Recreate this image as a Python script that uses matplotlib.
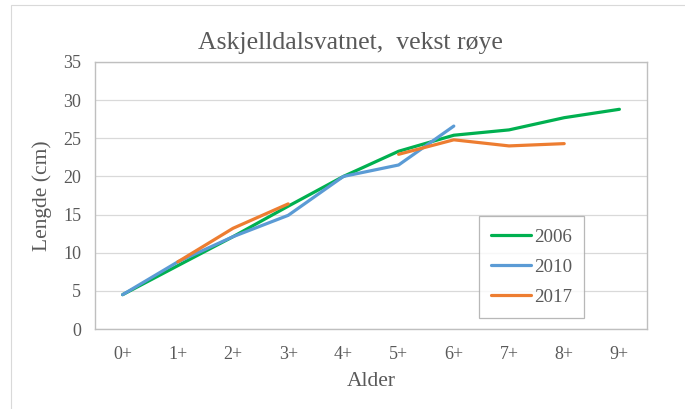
import numpy as np
import matplotlib
matplotlib.use('Agg')
import matplotlib.pyplot as plt
from matplotlib.patches import Rectangle

ages = ['0+', '1+', '2+', '3+', '4+', '5+', '6+', '7+', '8+', '9+']
nan = np.nan
len_2006 = [4.5, 8.3, 12.1, 16.1, 20.0, 23.3, 25.4, 26.1, 27.7, 28.8]
len_2010 = [4.5, 8.8, 12.1, 14.9, 20.0, 21.5, 26.6, nan, nan, nan]
len_2017 = [nan, 8.8, 13.2, 16.4, nan, 22.9, 24.8, 24.0, 24.3, nan]

GREEN = '#00B050'
BLUE = '#5B9BD5'
ORANGE = '#ED7D31'
TEXT = '#595959'
GRID = '#D9D9D9'

plt.rcParams['font.family'] = ['Liberation Serif', 'DejaVu Serif']

fig = plt.figure(figsize=(6.85, 4.09), dpi=100)
fig.patch.set_facecolor('white')
# outer chart border (left/top visible in the crop)
fig.patches.append(Rectangle((11 / 685, -0.1), 1.2, 1.1 - 5 / 409,
                             transform=fig.transFigure, fill=False,
                             edgecolor=GRID, linewidth=0.8))

ax = fig.add_axes([95 / 685, 1 - 329 / 409, (647 - 95) / 685, (329 - 62) / 409])
x = np.arange(len(ages))
ax.plot(x, len_2006, color=GREEN, lw=2.3, label='2006', solid_capstyle='round')
ax.plot(x, len_2010, color=BLUE, lw=2.3, label='2010', solid_capstyle='round')
ax.plot(x, len_2017, color=ORANGE, lw=2.3, label='2017', solid_capstyle='round')

ax.set_xlim(-0.5, len(ages) - 0.5)
ax.set_ylim(0, 35)
ax.set_yticks(range(0, 36, 5))
ax.set_xticks(x)
ax.set_xticklabels(ages)
ax.grid(axis='y', color=GRID, lw=0.9)
ax.set_axisbelow(True)
for s in ax.spines.values():
    s.set_color('#BFBFBF')
    s.set_linewidth(1.0)
ax.tick_params(length=0, colors=TEXT, labelsize=13)
ax.tick_params(axis='x', pad=12)
ax.tick_params(axis='y', pad=10)

ax.set_xlabel('Alder', fontsize=15.5, color=TEXT, labelpad=7)
ax.set_ylabel('Lengde (cm)', fontsize=15.5, color=TEXT, labelpad=8)
fig.text(350 / 685, 1 - 43 / 409, 'Askjelldalsvatnet,  vekst røye',
         ha='center', va='center', fontsize=18.5, color=TEXT)

leg = ax.legend(loc='upper left', bbox_to_anchor=(479 / 685, 1 - 216 / 409),
                bbox_transform=fig.transFigure, frameon=True, fancybox=False,
                fontsize=13.6, handlelength=2.1, borderpad=0.65, labelspacing=0.68,
                handletextpad=0.15, borderaxespad=0)
leg.get_frame().set_edgecolor('#A6A6A6')
leg.get_frame().set_linewidth(0.9)
for t in leg.get_texts():
    t.set_color(TEXT)

fig.savefig('out.png', dpi=100, facecolor='white')
